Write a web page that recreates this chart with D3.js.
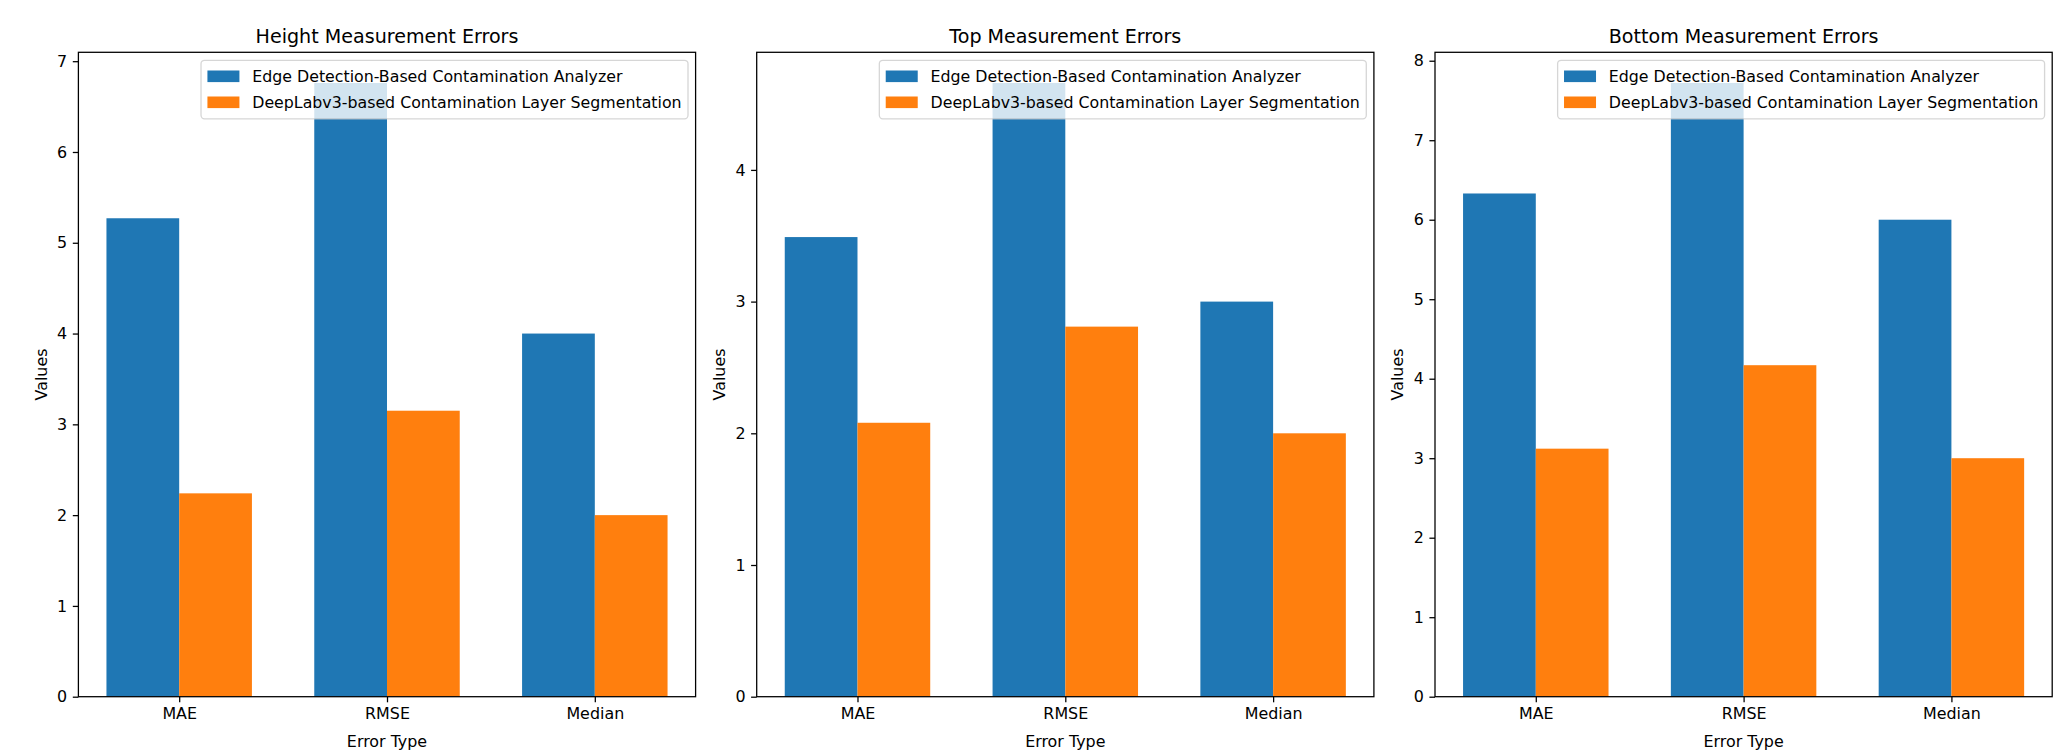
<!DOCTYPE html>
<html><head><meta charset="utf-8">
<script src="https://cdn.jsdelivr.net/npm/d3@7"></script>
<style>body{margin:0;background:#fff} svg{display:block} text{font-family:"DejaVu Sans",sans-serif;fill:#000}</style>
</head><body><svg id="chart" width="2068" height="751"></svg>
<script>
const categories = ["MAE", "RMSE", "Median"];
const seriesNames = ["Edge Detection-Based Contamination Analyzer", "DeepLabv3-based Contamination Layer Segmentation"];
const panelTitles = ["Height Measurement Errors", "Top Measurement Errors", "Bottom Measurement Errors"];
const heightEdge = [5.27, 6.76, 4.0];
const heightDeep = [2.24, 3.15, 2.0];
const topEdge = [3.49, 4.66, 3.0];
const topDeep = [2.08, 2.81, 2.0];
const bottomEdge = [6.33, 7.72, 6.0];
const bottomDeep = [3.12, 4.17, 3.0];
const heightTicks = [0, 1, 2, 3, 4, 5, 6, 7];
const topTicks = [0, 1, 2, 3, 4];
const bottomTicks = [0, 1, 2, 3, 4, 5, 6, 7, 8];
const xLabel = "Error Type";
const yLabel = "Values";
const colors = ["#1f77b4", "#ff7f0e"];

const panels = [
  {title: panelTitles[0], series: [heightEdge, heightDeep], ticks: heightTicks},
  {title: panelTitles[1], series: [topEdge, topDeep], ticks: topTicks},
  {title: panelTitles[2], series: [bottomEdge, bottomDeep], ticks: bottomTicks}
];

const svg = d3.select("#chart");
const lefts = [78.4, 756.7, 1435.0];
const W = 617.2, axTop = 52.3, axBottom = 696.7;
const fs = 15.9, lw = 1.28, tick = 5.6, pad = 5.6;
const barW = 0.35;

panels.forEach((p, pi) => {
  const L = lefts[pi], R = L + W;
  const g = svg.append("g");
  const x = d3.scaleLinear().domain([-0.485, 2.485]).range([L, R]);
  const ymax = d3.max(p.series.flat()) * 1.05;
  const y = d3.scaleLinear().domain([0, ymax]).range([axBottom, axTop]);

  p.series.forEach((vals, si) => {
    g.append("g").selectAll("rect").data(vals).join("rect")
      .attr("x", (d, i) => x(i + (si === 0 ? -barW : 0)))
      .attr("width", x(barW) - x(0))
      .attr("y", d => y(d))
      .attr("height", d => y(0) - y(d))
      .attr("fill", colors[si]);
  });

  const yAxis = d3.axisLeft(y).tickValues(p.ticks).tickFormat(d3.format("d"))
    .tickSize(tick).tickPadding(pad).tickSizeOuter(0);
  const ya = g.append("g").attr("transform", `translate(${L},0)`).call(yAxis);
  const xAxis = d3.axisBottom(x).tickValues([0, 1, 2]).tickFormat(i => categories[i])
    .tickSize(tick).tickPadding(pad).tickSizeOuter(0);
  const xa = g.append("g").attr("transform", `translate(0,${axBottom})`).call(xAxis);
  [ya, xa].forEach(a => {
    a.select(".domain").remove();
    a.selectAll("line").attr("stroke", "#000").attr("stroke-width", lw);
    a.selectAll("text").attr("font-size", fs).attr("font-family", "DejaVu Sans").attr("fill", "#000");
  });

  g.append("rect").attr("x", L).attr("y", axTop).attr("width", W).attr("height", axBottom - axTop)
    .attr("fill", "none").attr("stroke", "#000").attr("stroke-width", lw);

  g.append("text").attr("x", (L + R) / 2).attr("y", axTop - 9.6)
    .attr("text-anchor", "middle").attr("font-size", 19.1).text(p.title);
  g.append("text").attr("x", (L + R) / 2).attr("y", axBottom + 50.5)
    .attr("text-anchor", "middle").attr("font-size", fs).text(xLabel);
  g.append("text").attr("transform", `translate(${L - 31.6},${(axTop + axBottom) / 2}) rotate(-90)`)
    .attr("text-anchor", "middle").attr("font-size", fs).text(yLabel);

  const lg = g.append("g");
  const lfs = 15.8;
  const temp = lg.append("g");
  const texts = seriesNames.map((n) => temp.append("text").attr("font-size", lfs).text(n));
  const tw = d3.max(texts, t => t.node().getComputedTextLength());
  temp.remove();
  const lw2 = 6.4 + 32 + 12.8 + tw + 6.4;
  const lx = R - 7.6 - lw2, ly = axTop + 8, lh = 58.5;
  lg.append("rect").attr("x", lx).attr("y", ly).attr("width", lw2).attr("height", lh)
    .attr("rx", 3.5).attr("fill", "#fff").attr("fill-opacity", 0.8)
    .attr("stroke", "#cccccc").attr("stroke-opacity", 0.8).attr("stroke-width", 1.3);
  seriesNames.forEach((n, si) => {
    const cy = ly + 16 + si * 26;
    lg.append("rect").attr("x", lx + 6.4).attr("y", cy - 5.8).attr("width", 32).attr("height", 11.6)
      .attr("fill", colors[si]);
    lg.append("text").attr("x", lx + 6.4 + 32 + 12.8).attr("y", cy + 5.8)
      .attr("font-size", lfs).text(n);
  });
});
</script></body></html>
